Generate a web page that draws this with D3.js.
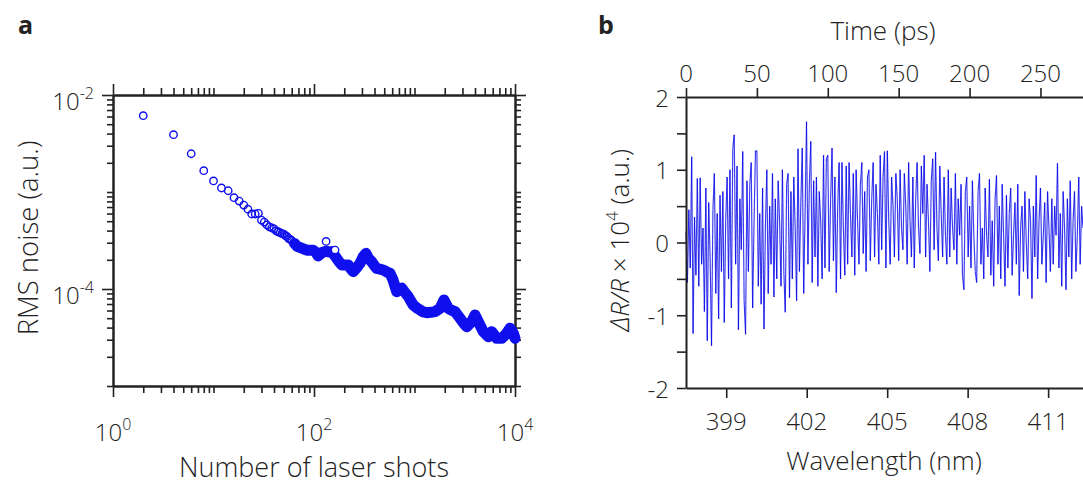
<!DOCTYPE html>
<html>
<head>
<meta charset="utf-8">
<script src="https://cdn.jsdelivr.net/npm/d3@7"></script>
<style>
  body { margin: 0; background: #fff; }
  text { font-family: 'Open Sans', 'Noto Sans', sans-serif; fill: #222; font-weight: 300; }
</style>
</head>
<body>
<svg id="fig" width="1083" height="485"></svg>
<script>
// panel a: RMS noise vs number of averaged laser shots
var shots = [2, 4, 6, 8, 10, 12, 14, 16, 18, 20, 22, 24, 26, 28, 30, 32, 34, 36, 38, 40,
  42, 44, 46, 48, 50, 52, 54, 56, 58, 60, 64, 68, 72, 76, 80, 86, 92, 98, 104, 110,
  116, 122, 132, 134, 142, 150, 162, 168, 178, 189, 204, 219, 232, 246, 266, 287, 308, 329, 350, 375,
  398, 421, 454, 490, 530, 571, 610, 665, 705, 746, 805, 868, 920, 972, 1050, 1135, 1225, 1322, 1460, 1600,
  1795, 1967, 2170, 2340, 2531, 2838, 3050, 3305, 3707, 4000, 4315, 4842, 5420, 5862, 6577, 7379, 8262, 8913, 9623, 10000]
var rmsNoise = [6.12e-3, 3.90e-3, 2.48e-3, 1.66e-3, 1.30e-3, 1.10e-3, 1.03e-3, 8.73e-4, 8.07e-4, 7.34e-4,
  6.64e-4, 5.93e-4, 5.93e-4, 6.03e-4, 5.14e-4, 4.90e-4, 4.57e-4, 4.37e-4, 4.27e-4, 4.17e-4,
  3.98e-4, 3.89e-4, 3.80e-4, 3.72e-4, 3.67e-4, 3.55e-4, 3.47e-4, 3.31e-4, 3.24e-4, 3.16e-4,
  2.95e-4, 2.75e-4, 2.69e-4, 2.63e-4, 2.57e-4, 2.51e-4, 2.51e-4, 2.51e-4, 2.40e-4, 2.19e-4,
  2.30e-4, 2.40e-4, 3.09e-4, 2.45e-4, 2.40e-4, 2.43e-4, 2.52e-4, 2.07e-4, 1.90e-4, 1.77e-4,
  1.77e-4, 1.77e-4, 1.62e-4, 1.51e-4, 1.65e-4, 1.84e-4, 2.15e-4, 2.33e-4, 2.05e-4, 1.91e-4,
  1.75e-4, 1.63e-4, 1.60e-4, 1.57e-4, 1.50e-4, 1.45e-4, 1.25e-4, 9.37e-5, 1.00e-4, 1.02e-4,
  9.20e-5, 8.34e-5, 7.50e-5, 6.84e-5, 6.40e-5, 6.08e-5, 5.80e-5, 5.70e-5, 5.75e-5, 5.84e-5,
  6.32e-5, 7.71e-5, 6.32e-5, 6.05e-5, 5.84e-5, 4.99e-5, 4.50e-5, 4.08e-5, 4.60e-5, 5.39e-5,
  4.60e-5, 3.63e-5, 3.22e-5, 3.63e-5, 3.10e-5, 3.10e-5, 3.49e-5, 3.94e-5, 3.49e-5, 3.10e-5]
// single shots that sit apart from the merged band
var isolatedShots = [132, 162]
var xTicksA = [1, 100, 10000]
var yTicksA = [1e-2, 1e-4]

// panel b: transient reflectivity trace, one sample per ps
var timeStep = 1
var dR = [
  0.15, -0.55, 0.45, -0.35, 1.18, -1.25, 0.35, -0.45, 0.88, -0.6,
  0.89, -0.3, 0.2, -0.95, 0.75, -1.35, 0.55, -0.2, -1.42, 0.45,
  0.95, -0.7, 0.4, -1.05, 0.65, -0.4, 0.7, -1.1, 0.3, 0.9,
  -0.5, 1.0, -0.9, 1.29, 1.48, -0.3, 1.05, -1.2, 0.6, -0.1,
  1.25, -0.8, -1.26, 0.85, -0.4, 0.8, 1.1, -0.9, 0.3, 1.26,
  1.26, -0.6, 0.4, -0.85, 0.75, -1.19, 0.2, 1.0, -0.7, 0.5,
  -0.3, 0.95, -0.75, 0.6, -0.5, 0.85, 0.3, -0.6, 1.0, -0.4,
  -0.96, 0.8, 0.95, -0.76, 0.7, -0.5, 0.9, 0.2, -0.8, 1.29,
  -0.4, 0.55, 1.3, -0.7, 0.4, 1.66, -0.3, 0.8, 1.39, -0.55,
  0.85, -0.2, 0.9, -0.6, 0.7, 0.3, -0.5, 1.2, -0.35, 1.15,
  1.2, -0.4, 0.6, 1.3, -0.25, 0.9, -0.69, 0.5, 1.1, -0.5,
  1.1, 0.2, -0.45, 1.05, -0.3, 1.1, 0.4, -0.2, 0.95, -0.45,
  1.0, 0.3, -0.3, 0.8, 1.1, -0.15, 0.7, -0.4, 0.9, 1.0,
  -0.25, 0.6, 1.1, -0.2, 0.8, 0.4, -0.3, 1.2, -0.1, 0.9,
  1.25, -0.35, 1.26, 0.3, -0.3, 0.9, 0.5, -0.2, 0.95, 0.6,
  -0.25, 1.0, 0.2, -0.1, 0.95, 0.5, -0.3, 1.1, 0.3, -0.2,
  0.9, -0.35, 0.6, 1.1, 0.2, -0.15, 1.05, 0.4, 1.2, -0.2,
  0.8, 0.3, -0.4, 0.85, 1.15, -0.1, 1.24, 0.2, -0.25, 1.05,
  0.4, -0.2, 0.9, 0.1, -0.3, 1.0, -0.2, 0.75, 0.2, -0.1,
  0.95, -0.3, 0.6, 0.1, 0.8, -0.45, -0.65, 0.7, 0.9, -0.2,
  0.5, -0.35, 0.85, 0.1, -0.4, -0.55, 0.7, 0.95, -0.3, 0.2,
  -0.5, 0.75, 0.1, -0.2, 0.87, -0.45, 0.3, -0.6, 0.6, 0.92,
  -0.3, 0.5, -0.5, 0.8, 0.1, -0.6, 0.65, -0.35, 0.4, 0.75,
  -0.45, 0.1, 0.55, -0.3, 0.8, -0.73, 0.2, 0.5, -0.4, 0.7,
  0.0, -0.5, 0.6, 0.3, -0.77, 0.5, -0.2, 0.92, -0.5, 0.3,
  0.75, -0.3, 0.1, 0.55, -0.55, 0.7, 0.2, -0.4, 0.6, -0.3,
  0.5, 0.1, 1.09, -0.35, 0.4, -0.6, 0.7, 0.2, -0.65, 0.6,
  -0.2, 0.85, -0.5, 0.3, 0.7, -0.4, 0.1, 0.9, -0.3, 0.5,
  0.2]
var timeTicks = [0, 50, 100, 150, 200, 250]
var wavelengthTicks = [399, 402, 405, 408, 411]
var dRTicks = [-2, -1, 0, 1, 2]

var ink = '#222', blue = '#1010ee'
var svg = d3.select('#fig')

function styleAxis(g){
  g.selectAll('path.domain').attr('stroke', ink).attr('stroke-width', 2)
  g.selectAll('.tick line').attr('stroke', ink).attr('stroke-width', 1.6)
  g.selectAll('.tick text').remove()
}

function axis(g, fn, scale, vals, size){
  g.call(fn(scale).tickValues(vals).tickSize(size).tickSizeOuter(0).tickFormat(''))
  styleAxis(g)
}

function powLabel(sel, base, exp){
  sel.append('tspan').text(base)
  sel.append('tspan').attr('font-size', 16).attr('dy', -11).text(exp)
}

// ---------- panel a ----------
var xa = d3.scaleLog().domain([1, 1e4]).range([113, 515])
var ya = d3.scaleLog().domain([1e-5, 1e-2]).range([386, 95])

var decadesX = [1, 10, 100, 1000]
var xMinorA = decadesX.flatMap(p => d3.range(1, 10).map(m => m * p)).filter(v => !xTicksA.includes(v))
var decadesY = [1e-5, 1e-4, 1e-3]
var yMinorA = decadesY.flatMap(p => d3.range(1, 10).map(m => m * p)).filter(v => !yTicksA.some(t => Math.abs(t - v) < t * 1e-6))

var ga = svg.append('g')
;[[d3.axisBottom, 386], [d3.axisTop, 95]].forEach(([fn, y]) => {
  axis(ga.append('g').attr('transform', `translate(0,${y})`), fn, xa, xMinorA, 7)
  axis(ga.append('g').attr('transform', `translate(0,${y})`), fn, xa, xTicksA, 11)
})
;[[d3.axisLeft, 113], [d3.axisRight, 515]].forEach(([fn, x]) => {
  axis(ga.append('g').attr('transform', `translate(${x},0)`), fn, ya, yMinorA, 6)
  axis(ga.append('g').attr('transform', `translate(${x},0)`), fn, ya, yTicksA, 11)
})

var pts = shots.map((n, i) => ({n, v: rmsNoise[i]}))

// dense part of the record: the markers merge into a solid band
ga.append('path')
  .datum(pts.filter(d => d.n >= 64 && !isolatedShots.includes(d.n)))
  .attr('d', d3.line().x(d => xa(d.n)).y(d => ya(d.v)))
  .attr('fill', 'none').attr('stroke', blue).attr('stroke-width', 11)
  .attr('stroke-linejoin', 'round').attr('stroke-linecap', 'round')

ga.selectAll('circle').data(pts).join('circle')
  .attr('cx', d => xa(d.n)).attr('cy', d => ya(d.v)).attr('r', 3.7)
  .attr('fill', d => isolatedShots.includes(d.n) ? '#fff' : 'none')
  .attr('stroke', blue).attr('stroke-width', 1.4)

ga.selectAll('text.xl').data(xTicksA).join('text')
  .attr('class', 'xl').attr('x', d => xa(d)).attr('y', 441)
  .attr('text-anchor', 'middle').attr('font-size', 24)
  .each(function(d){ powLabel(d3.select(this), '10', Math.round(Math.log10(d))) })

ga.selectAll('text.yl').data(yTicksA).join('text')
  .attr('class', 'yl').attr('x', 94).attr('y', d => ya(d) + 15)
  .attr('text-anchor', 'end').attr('font-size', 24)
  .each(function(d){ powLabel(d3.select(this), '10', '-' + Math.round(-Math.log10(d))) })

ga.append('text').attr('x', 314).attr('y', 477).attr('text-anchor', 'middle')
  .attr('font-size', 27).text('Number of laser shots')
ga.append('text').attr('transform', 'translate(38,238) rotate(-90)').attr('text-anchor', 'middle')
  .attr('font-size', 27.5).text('RMS noise (a.u.)')
svg.append('text').attr('x', 18).attr('y', 34).attr('font-size', 25).style('font-weight', 700).text('a')

// ---------- panel b ----------
var xt = d3.scaleLinear().domain([0, 280]).range([686, 1083])
var xw = d3.scaleLinear().domain([397.5, 412.3]).range([686, 1083])
var yb = d3.scaleLinear().domain([-2, 2]).range([388, 97])

var gb = svg.append('g')
var segs = d3.pairs(dR.map((v, i) => [xt(i * timeStep), yb(v)]))
gb.selectAll('line.seg').data(segs).join('line').attr('class', 'seg')
  .attr('x1', d => d[0][0]).attr('y1', d => d[0][1])
  .attr('x2', d => d[1][0]).attr('y2', d => d[1][1])
  .attr('stroke', '#0808e8').attr('stroke-opacity', 0.8).attr('stroke-width', 1.15)

axis(gb.append('g').attr('transform', 'translate(0,97)'), d3.axisTop, xt, timeTicks, 9)
axis(gb.append('g').attr('transform', 'translate(0,388)'), d3.axisBottom, xw, wavelengthTicks, 10)
axis(gb.append('g').attr('transform', 'translate(686,0)'), d3.axisLeft, yb, d3.range(-2, 2.01, 0.5), 9)

gb.selectAll('text.tl').data(timeTicks).join('text').attr('class', 'tl')
  .attr('x', d => xt(d)).attr('y', 82).attr('text-anchor', 'middle').attr('font-size', 24).text(d => d)
gb.selectAll('text.wl').data(wavelengthTicks).join('text').attr('class', 'wl')
  .attr('x', d => xw(d)).attr('y', 430).attr('text-anchor', 'middle').attr('font-size', 24).text(d => d)
gb.selectAll('text.dl').data(dRTicks).join('text').attr('class', 'dl')
  .attr('x', 669).attr('y', d => yb(d) + 9.5).attr('text-anchor', 'end').attr('font-size', 24).text(d => d)

gb.append('text').attr('x', 883).attr('y', 40).attr('text-anchor', 'middle').attr('font-size', 26).text('Time (ps)')
gb.append('text').attr('x', 884).attr('y', 470).attr('text-anchor', 'middle').attr('font-size', 26).text('Wavelength (nm)')

var yt = gb.append('text').attr('transform', 'translate(629,240) rotate(-90)')
  .attr('text-anchor', 'middle').attr('font-size', 26)
yt.append('tspan').attr('font-style', 'italic').text('ΔR/R')
yt.append('tspan').text(' × 10')
yt.append('tspan').attr('font-size', 17).attr('dy', -11).text('4')
yt.append('tspan').attr('dy', 11).text(' (a.u.)')
svg.append('text').attr('x', 598).attr('y', 34).attr('font-size', 25).style('font-weight', 700).text('b')
</script>
</body>
</html>
